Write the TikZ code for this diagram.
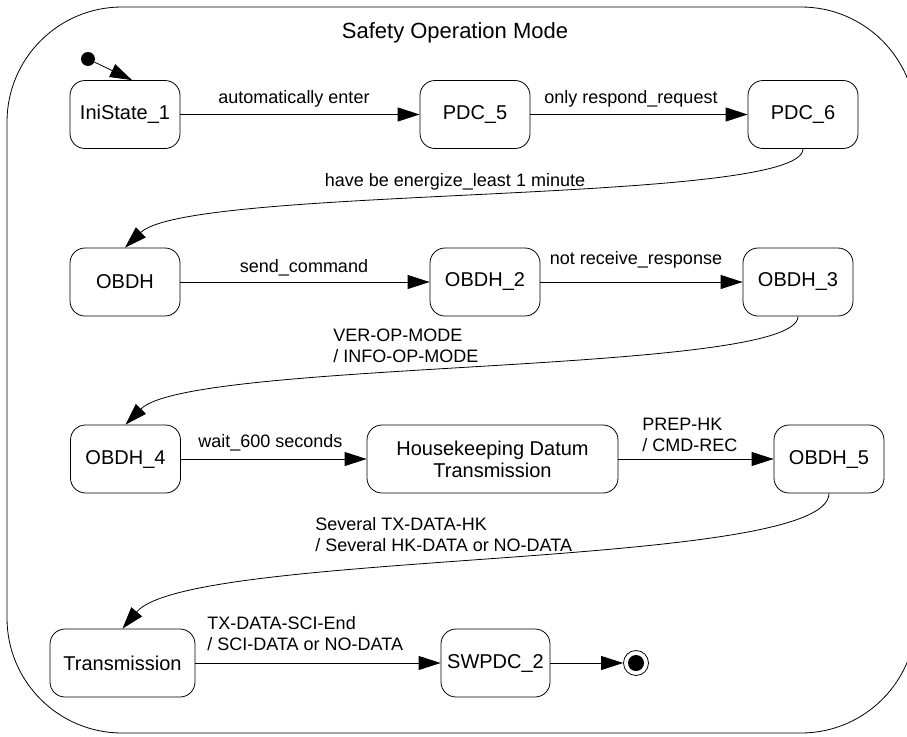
\documentclass[tikz,border=0pt]{standalone}
\usepackage{fontspec}
\setmainfont{Liberation Sans}
\usetikzlibrary{arrows.meta}
\begin{document}
\begin{tikzpicture}[x=1pt,y=-1pt,
  stbox/.style={draw, rounded corners=15pt, line width=0.8pt, minimum width=110pt,
    minimum height=68pt, inner sep=0pt, align=center,
    font=\fontsize{20}{22}\selectfont},
  tr/.style={draw, line width=0.8pt, -{Triangle[length=22pt,width=14pt]}},
  lbl/.style={inner sep=0pt, font=\fontsize{18}{21}\selectfont},
  mlbl/.style={lbl, align=left, anchor=west},
]
\useasboundingbox (0,0) rectangle (907,736);

% composite state frame (its right side runs past the page edge)
\begin{scope}
  \clip (0,0) rectangle (907,736);
  \draw[line width=0.8pt, rounded corners=115pt] (7,7) rectangle (916,733);
\end{scope}
\node[anchor=base, inner sep=0pt, font=\fontsize{22}{26}\selectfont] (title) at (455,38) {Safety Operation Mode};

% states
\node[circle, fill, inner sep=0pt, minimum size=14pt] (init) at (88,59) {};
\node[stbox] (ini)   at (125,114.5) {IniState\_1};
\node[stbox] (pdc5)  at (475,114.5) {PDC\_5};
\node[stbox] (pdc6)  at (803,114.5) {PDC\_6};
\node[stbox] (obdh)  at (125,282) {OBDH};
\node[stbox] (obdh2) at (485,282) {OBDH\_2};
\node[stbox] (obdh3) at (798,282) {OBDH\_3};
\node[stbox] (obdh4) at (125.5,459) {OBDH\_4};
\node[stbox, minimum width=251pt] (hk) at (492.5,459) {Housekeeping Datum\\Transmission};
\node[stbox] (obdh5) at (829,459) {OBDH\_5};
\node[stbox, minimum width=145pt] (tx) at (122.5,663) {Transmission};
\node[stbox, minimum width=109pt] (sw) at (495.5,663) {SWPDC\_2};
\node[circle, draw, line width=0.8pt, inner sep=0pt, minimum size=25pt] (fin) at (636,663) {};
\fill (fin.center) circle (8pt);

% transitions
\draw[tr] (init) -- ([xshift=7pt]ini.north);
\draw[tr] (ini) -- (pdc5)
  node[lbl, anchor=base] at (294,103) {automatically enter};
\draw[tr] (pdc5) -- (pdc6)
  node[lbl, anchor=base] at (631,103) {only respond\_request};
\draw[tr] (pdc6.south) .. controls (803,205) and (190,185) .. (obdh.north)
  node[lbl, anchor=base] at (455,186) {have be energize\_least 1 minute};
\draw[tr] (obdh) -- (obdh2)
  node[lbl, anchor=base] at (304,272) {send\_command};
\draw[tr] (obdh2) -- (obdh3)
  node[lbl, anchor=base] at (636,264) {not receive\_response};
\draw[tr] (obdh3.south) .. controls (798,375) and (190,359) .. (obdh4.north)
  node[mlbl] at (333,346) {VER-OP-MODE\\/ INFO-OP-MODE};
\draw[tr] (obdh4) -- (hk)
  node[lbl, anchor=base west] at (198,447) {wait\_600 seconds};
\draw[tr] (hk) -- (obdh5)
  node[mlbl] at (642,435) {PREP-HK\\/ CMD-REC};
\draw[tr] (obdh5.south) .. controls (829,570) and (190,549) .. (tx.north)
  node[mlbl] at (315,534.5) {Several TX-DATA-HK\\/ Several HK-DATA or NO-DATA};
\draw[tr] (tx) -- (sw)
  node[mlbl] at (207,633.5) {TX-DATA-SCI-End\\/ SCI-DATA or NO-DATA};
\draw[tr] (sw) -- (fin);
\end{tikzpicture}
\end{document}
